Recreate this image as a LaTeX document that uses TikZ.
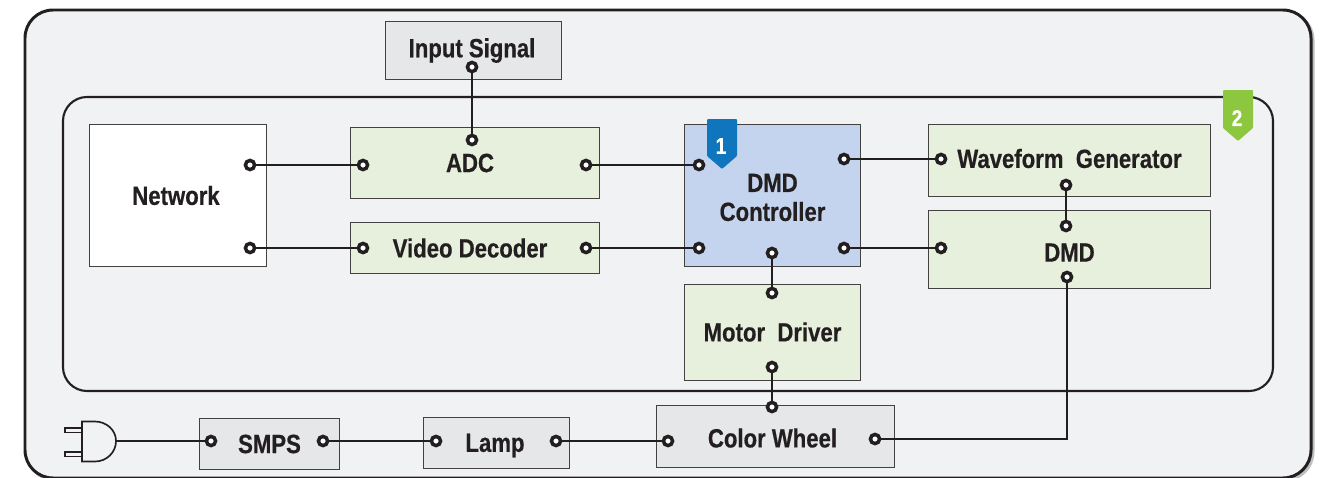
\documentclass[tikz,border=0pt]{standalone}
\usepackage{fontspec}
\setmainfont{Liberation Sans}[FakeStretch=0.84,BoldFeatures={FakeStretch=0.84,FakeBold=0.5}]
\usetikzlibrary{positioning,calc}
\definecolor{panelgray}{HTML}{F1F2F4}
\definecolor{boxgreen}{HTML}{E7F0DC}
\definecolor{boxblue}{HTML}{C5D4EE}
\definecolor{boxgray}{HTML}{E6E7E9}
\definecolor{inkdark}{HTML}{231F20}
\definecolor{tagblue}{HTML}{0F75BC}
\definecolor{taggreen}{HTML}{8DC63F}
\tikzset{
  block/.style={draw=inkdark!85,line width=.55pt,inner sep=0pt,align=center,text=inkdark,font=\fontsize{15}{16.5}\selectfont\bfseries},
  greenblock/.style={block,fill=boxgreen},
  grayblock/.style={block,fill=boxgray},
  port/.style={circle,draw=inkdark,fill=white,line width=2pt,minimum size=5.2pt,inner sep=0pt},
  wire/.style={draw=inkdark,line width=.95pt},
  tagtext/.style={text=white,inner sep=0pt,font=\fontsize{13}{15}\selectfont\bfseries}
}
\begin{document}
\begin{tikzpicture}[x=.02cm,y=-.02cm]
  \useasboundingbox (0,0) rectangle (1326,477);
  \clip (0,0) rectangle (1326,477);
  % panels
  \draw[black!25,line width=1.7pt,rounded corners=.56cm] (27,12) rectangle (1313,480);
  \draw[inkdark,fill=panelgray,line width=1.7pt,rounded corners=.56cm] (25,10) rectangle (1311,478);
  \draw[inkdark,line width=1.2pt,rounded corners=.48cm] (63,97) rectangle (1273,391);

  % blocks
  \node[grayblock,minimum width=3.52cm,minimum height=1.16cm] (input) at (473.5,50.5) {Input Signal\kern.06cm};
  \node[block,fill=white,minimum width=3.54cm,minimum height=2.84cm] (network) at (178,195.5) {Network\kern.08cm};
  \node[greenblock,minimum width=5cm,minimum height=1.42cm] (adc) at (475,163) {ADC\kern.2cm};
  \node[greenblock,minimum width=5cm,minimum height=1.02cm] (video) at (475,248) {Video Decoder\kern.2cm};
  \node[block,fill=boxblue,minimum width=3.52cm,minimum height=2.84cm] (ctrl) at (772.5,195.5) {\raisebox{-.04cm}[\height][\depth]{DMD}\\\raisebox{-.04cm}[\height][\depth]{Controller}};
  \node[greenblock,minimum width=5.64cm,minimum height=1.44cm] (wave) at (1069.5,160.5) {\raisebox{.04cm}[\height][\depth]{Waveform\ \ Generator}};
  \node[greenblock,minimum width=5.64cm,minimum height=1.56cm] (dmd) at (1069.5,249.5) {\raisebox{-.06cm}[\height][\depth]{DMD}};
  \node[greenblock,minimum width=3.52cm,minimum height=1.92cm] (motor) at (772.5,332) {Motor\ \ Driver};
  \node[grayblock,minimum width=4.76cm,minimum height=1.24cm] (wheel) at (775.5,436.5) {\raisebox{-.03cm}[\height][\depth]{Color Wheel}\kern.12cm};
  \node[grayblock,minimum width=2.8cm,minimum height=1.02cm] (smps) at (269.5,444) {SMPS};
  \node[grayblock,minimum width=2.92cm,minimum height=1.02cm] (lamp) at (496.5,443) {\raisebox{-.05cm}[\height][\depth]{Lamp}\kern.06cm};

  % ports
  \node[port] (p1) at (472,67) {};
  \node[port] (p2) at (472,140) {};
  \node[port] (p3) at (250,165) {};
  \node[port] (p4) at (363,165) {};
  \node[port] (p5) at (586,165) {};
  \node[port] (p6) at (699,165) {};
  \node[port] (p7) at (250,248) {};
  \node[port] (p8) at (363,248) {};
  \node[port] (p9) at (586,248) {};
  \node[port] (p10) at (699,248) {};
  \node[port] (p11) at (844,159) {};
  \node[port] (p12) at (941,159) {};
  \node[port] (p13) at (844,248) {};
  \node[port] (p14) at (941,248) {};
  \node[port] (p15) at (1066,185) {};
  \node[port] (p16) at (1066,226) {};
  \node[port] (p17) at (772,253) {};
  \node[port] (p18) at (772,293) {};
  \node[port] (p19) at (772,367) {};
  \node[port] (p20) at (772,407) {};
  \node[port] (p21) at (1067,277) {};
  \node[port] (p22) at (875,439) {};
  \node[port] (p23) at (668,441) {};
  \node[port] (p24) at (556,441) {};
  \node[port] (p25) at (436,441) {};
  \node[port] (p26) at (323,441) {};
  \node[port] (p27) at (211,441) {};

  % wires
  \draw[wire] (p1) -- (p2);
  \draw[wire] (p3) -- (p4);
  \draw[wire] (p5) -- (p6);
  \draw[wire] (p7) -- (p8);
  \draw[wire] (p9) -- (p10);
  \draw[wire] (p11) -- (p12);
  \draw[wire] (p13) -- (p14);
  \draw[wire] (p15) -- (p16);
  \draw[wire] (p17) -- (p18);
  \draw[wire] (p19) -- (p20);
  \draw[wire] (p22) -| (p21);
  \draw[wire] (p23) -- (p24);
  \draw[wire] (p25) -- (p26);

  % plug
  \coordinate (plugtip) at (116,441);
  \draw[wire] (plugtip) -- (p27);
  \draw[inkdark,line width=.95pt,fill=panelgray] (82,421.5) -- (95,421.5) to[out=0,in=90] (plugtip) to[out=-90,in=0] (95,461.5) -- (82,461.5) -- cycle;
  \draw[inkdark,line width=.8pt] (82,428) -- (65,428) -- (65,432.5) -- (82,432.5);
  \draw[inkdark,line width=.8pt] (82,452) -- (65,452) -- (65,456.5) -- (82,456.5);

  % tags
  \fill[tagblue,rounded corners=.02cm] (707,119) -- (737,119) -- (737,156) -- (722,169) -- (707,156) -- cycle;
  \node[tagtext] (tagone) at (721,146) {1};
  \fill[taggreen,rounded corners=.02cm] (1223,90) -- (1253,90) -- (1253,128) -- (1238,141) -- (1223,128) -- cycle;
  \node[tagtext] (tagtwo) at (1237,118) {2};
\end{tikzpicture}
\end{document}
